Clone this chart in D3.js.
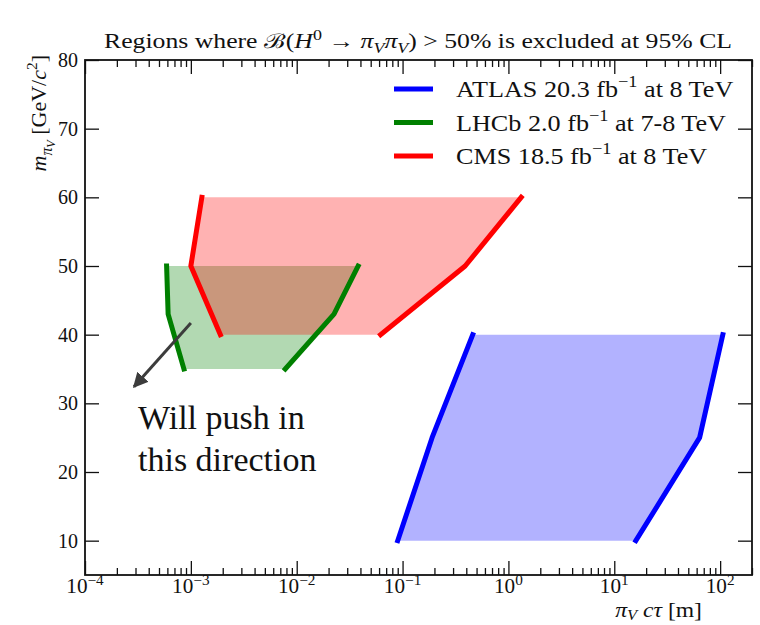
<!DOCTYPE html>
<html>
<head>
<meta charset="utf-8">
<script src="https://cdn.jsdelivr.net/npm/d3@7"></script>
<style>
  body { margin: 0; background: #fff; }
  text { font-family: "Liberation Serif", "DejaVu Serif", serif; fill: #111; }
</style>
</head>
<body>
<div id="chart"></div>
<script>
// exclusion regions, [c*tau in m, mass in GeV/c^2]
const atlasLeft  = [[0.09, 10], [0.19, 25], [0.46, 40]];
const atlasRight = [[16, 10], [64, 25], [106, 40]];
const lhcbLeft   = [[5.9e-4, 50], [6.1e-4, 43], [8.6e-4, 35]];
const lhcbRight  = [[7.8e-3, 35], [0.0225, 43], [0.038, 50]];
const cmsLeft    = [[1.27e-3, 60], [1.0e-3, 50], [1.9e-3, 40]];
const cmsRight   = [[0.062, 40], [0.39, 50], [1.32, 60]];

const xMajor = [1e-4, 1e-3, 1e-2, 1e-1, 1, 10, 100];
const xExp = ["−4", "−3", "−2", "−1", "0", "1", "2"];
const yMajor = [10, 20, 30, 40, 50, 60, 70, 80];

const arrowFrom = [1.0e-3, 41.7];
const arrowTo = [2.9e-4, 32.4];

const legendItems = [
  {name: "ATLAS 20.3 fb", sup: "−1", tail: " at 8 TeV", color: "#0000ff"},
  {name: "LHCb 2.0 fb", sup: "−1", tail: " at 7-8 TeV", color: "#008000"},
  {name: "CMS 18.5 fb", sup: "−1", tail: " at 8 TeV", color: "#ff0000"}
];

const W = 760, H = 625;
const margin = {top: 60, right: 8, bottom: 50, left: 85};

const svg = d3.select("#chart").append("svg")
  .attr("width", W).attr("height", H);

const x = d3.scaleLog().domain([1e-4, 200]).range([margin.left, W - margin.right]);
const y = d3.scaleLinear().domain([5, 80]).range([H - margin.bottom, margin.top]);

// rich text helper: segments with italic / shifted pieces
function rich(sel, segs, size) {
  let cur = 0;
  segs.forEach(s => {
    const sh = (s.sh || 0) * size;
    sel.append("tspan")
      .text(s.t)
      .attr("dy", sh - cur)
      .attr("font-style", s.it ? "italic" : null)
      .attr("font-size", s.fs ? size * s.fs : null);
    cur = sh;
  });
}

// widen a text a bit (the original uses a wider serif face)
function widen(sel, k) {
  sel.each(function() {
    const w = this.getComputedTextLength();
    d3.select(this).attr("textLength", w * k).attr("lengthAdjust", "spacingAndGlyphs");
  });
}

// regions
const line = d3.line().x(d => x(d[0])).y(d => y(d[1]));
const regions = [
  {left: atlasLeft, right: atlasRight, color: "#0000ff"},
  {left: lhcbLeft, right: lhcbRight, color: "#008000"},
  {left: cmsLeft, right: cmsRight, color: "#ff0000"}
];

function outline(r) {
  const up = r.left.slice().sort((a, b) => a[1] - b[1]);
  const down = r.right.slice().sort((a, b) => b[1] - a[1]);
  return line(up.concat(down)) + "Z";
}

svg.append("g").selectAll("path")
  .data(regions)
  .join("path")
  .attr("d", outline)
  .attr("fill", d => d.color)
  .attr("fill-opacity", 0.3)
  .attr("stroke", "none");

const edges = regions.flatMap(r => [{pts: r.left, color: r.color}, {pts: r.right, color: r.color}]);
svg.append("g").selectAll("path")
  .data(edges)
  .join("path")
  .attr("d", d => line(d.pts))
  .attr("fill", "none")
  .attr("stroke", d => d.color)
  .attr("stroke-width", 5)
  .attr("stroke-linecap", "square")
  .attr("stroke-linejoin", "round");

// axes (ticks pointing inward on all sides)
const minor = x.ticks().filter(v => !xMajor.some(m => Math.abs(m - v) / m < 1e-6));

function xTicks(axisFn, vals, size) {
  return axisFn(x).tickValues(vals).tickSizeInner(-size).tickSizeOuter(0).tickFormat("");
}

const gBottom = svg.append("g").attr("transform", `translate(0,${H - margin.bottom})`);
gBottom.append("g").call(xTicks(d3.axisBottom, minor, 7));
gBottom.append("g").call(xTicks(d3.axisBottom, xMajor, 14));

const gTop = svg.append("g").attr("transform", `translate(0,${margin.top})`);
gTop.append("g").call(xTicks(d3.axisTop, minor, 7));
gTop.append("g").call(xTicks(d3.axisTop, xMajor, 14));

svg.append("g")
  .attr("transform", `translate(${margin.left},0)`)
  .call(d3.axisLeft(y).tickValues(yMajor).tickSizeInner(-14).tickSizeOuter(0).tickPadding(7))
  .call(g => g.selectAll(".tick text")
    .attr("font-family", "Liberation Serif, serif").attr("font-size", 20).attr("fill", "#222"));

svg.append("g")
  .attr("transform", `translate(${W - margin.right},0)`)
  .call(d3.axisRight(y).tickValues(yMajor).tickSizeInner(-14).tickSizeOuter(0).tickFormat(""));

svg.selectAll(".domain").remove();
svg.selectAll(".tick line").attr("stroke", "#111").attr("stroke-width", 1.3);

// x tick labels as 10^n
const xLab = svg.append("g").selectAll("text")
  .data(xMajor)
  .join("text")
  .attr("x", d => x(d))
  .attr("y", H - margin.bottom + 18)
  .attr("text-anchor", "middle")
  .attr("font-size", 20)
  .attr("fill", "#222");
xLab.each(function(d, i) {
  rich(d3.select(this), [{t: "10", sh: 0}, {t: xExp[i], sh: -0.42, fs: 0.72}], 20);
});
widen(xLab, 1.06);

// frame
svg.append("rect")
  .attr("x", margin.left).attr("y", margin.top)
  .attr("width", W - margin.right - margin.left)
  .attr("height", H - margin.bottom - margin.top)
  .attr("fill", "none").attr("stroke", "#111").attr("stroke-width", 1.8);

// title
const title = svg.append("text")
  .attr("x", 418).attr("y", 48)
  .attr("text-anchor", "middle")
  .attr("font-size", 20)
  .attr("textLength", 628).attr("lengthAdjust", "spacingAndGlyphs");
rich(title, [
  {t: "Regions where "}, {t: "ℬ"}, {t: "("}, {t: "H", it: true},
  {t: "0", sh: -0.4, fs: 0.7}, {t: " → ", sh: 0}, {t: "π", it: true},
  {t: "V", it: true, sh: 0.25, fs: 0.7}, {t: "π", it: true, sh: 0},
  {t: "V", it: true, sh: 0.25, fs: 0.7}, {t: ") > 50% is excluded at 95% CL", sh: 0}
], 20);

// legend
const leg = svg.append("g").selectAll("g")
  .data(legendItems)
  .join("g")
  .attr("transform", (d, i) => `translate(394,${89 + i * 33.5})`);
leg.append("line")
  .attr("x1", 0).attr("x2", 39)
  .attr("stroke", d => d.color).attr("stroke-width", 5);
const legText = leg.append("text")
  .attr("x", 62).attr("y", 8)
  .attr("font-size", 24)
  .each(function(d) {
    rich(d3.select(this), [{t: d.name}, {t: d.sup, sh: -0.4, fs: 0.7}, {t: d.tail, sh: 0}], 24);
  });
widen(legText, 1.09);

// axis titles
const yTitle = svg.append("text")
  .attr("transform", "translate(46,55) rotate(-90)")
  .attr("text-anchor", "end")
  .attr("font-size", 22);
rich(yTitle, [
  {t: "m", it: true}, {t: "π", it: true, sh: 0.25, fs: 0.72}, {t: "V", it: true, sh: 0.42, fs: 0.55},
  {t: " [GeV/", sh: 0}, {t: "c", it: true}, {t: "2", sh: -0.4, fs: 0.7}, {t: "]", sh: 0}
], 22);

const xTitle = svg.append("text")
  .attr("x", 702).attr("y", 617)
  .attr("text-anchor", "end")
  .attr("font-size", 20);
rich(xTitle, [
  {t: "π", it: true}, {t: "V", it: true, sh: 0.15, fs: 0.7}, {t: " ", sh: 0},
  {t: "cτ", it: true}, {t: " [m]"}
], 20);
widen(xTitle, 1.18);

// annotation
svg.append("defs").append("marker")
  .attr("id", "head")
  .attr("viewBox", "0 0 10 10")
  .attr("refX", 9).attr("refY", 5)
  .attr("markerWidth", 5).attr("markerHeight", 5)
  .attr("orient", "auto")
  .append("path").attr("d", "M0,0L10,5L0,10Z").attr("fill", "#3c3c3c");

svg.append("line")
  .attr("x1", x(arrowFrom[0])).attr("y1", y(arrowFrom[1]))
  .attr("x2", x(arrowTo[0])).attr("y2", y(arrowTo[1]))
  .attr("stroke", "#3c3c3c").attr("stroke-width", 3)
  .attr("marker-end", "url(#head)");

svg.append("g").selectAll("text")
  .data(["Will push in", "this direction"])
  .join("text")
  .attr("x", 138).attr("y", (d, i) => 429 + i * 42)
  .attr("font-size", 34)
  .text(d => d);
</script>
</body>
</html>
